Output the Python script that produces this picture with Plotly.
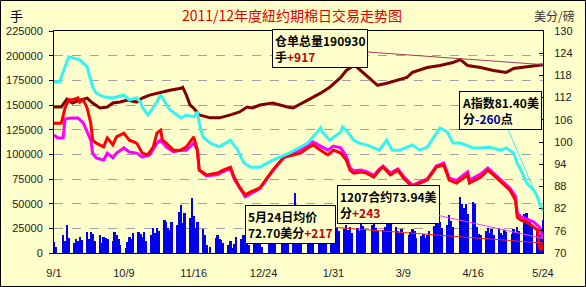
import pandas as pd
import plotly.graph_objects as go

START = pd.Timestamp("2011-09-01")
END = pd.Timestamp("2012-05-24")

# ---------------- data ----------------
tick_dates = ["2011-09-01", "2011-10-09", "2011-11-16", "2011-12-24",
              "2012-01-31", "2012-03-09", "2012-04-16", "2012-05-24"]
tick_labels = ["9/1", "10/9", "11/16", "12/24", "1/31", "3/9", "4/16", "5/24"]

holidays = ["2011-09-05", "2011-11-24", "2011-12-26", "2012-01-02",
            "2012-01-16", "2012-02-20", "2012-04-06"]

# daily volume (thousand lots), month by month
vol_sep = [11, 6, 18, 12, 28, 15, 10, 14, 12, 16, 13, 21, 14, 21, 19, 12, 18, 10, 16, 15, 14]
vol_oct = [12, 21, 18, 14, 8, 5, 11, 16, 14, 20, 21, 19, 16, 21, 12, 18, 25, 20, 25, 22, 33]
vol_nov = [31, 25, 23, 31, 28, 42, 49, 30, 41, 35, 56, 37, 25, 31, 24, 18, 8, 6, 15, 18, 14]
vol_dec = [13, 10, 8, 12, 5, 9, 16, 14, 18, 11, 13, 8, 16, 21, 14, 10, 6, 13, 20, 16, 12]
vol_jan = [22, 25, 20, 28, 33, 61, 36, 30, 24, 28, 32, 26, 22, 26, 30, 24, 28, 31, 27, 30]
vol_feb = [30, 25, 22, 24, 28, 23, 26, 20, 25, 22, 30, 27, 24, 28, 31, 25, 22, 23, 26, 35]
vol_mar = [38, 30, 26, 22, 20, 24, 21, 18, 21, 24, 22, 15, 17, 19, 15, 18, 22, 27, 33, 30, 31, 25]
vol_apr = [28, 39, 32, 26, 57, 50, 46, 50, 40, 52, 50, 26, 19, 18, 22, 25, 20, 24, 18, 25]
vol_may = [20, 18, 23, 21, 19, 24, 21, 26, 22, 40, 41, 35, 31, 28, 22, 18, 25, 33]

# warehouse stocks (thousand lots), left axis
stock_days = [0, 4, 7, 10, 14, 18, 21, 25, 29, 32, 36, 40, 45, 48, 52, 58, 63, 69, 70, 72, 74, 76,
              79, 85, 90, 96, 101, 105, 108, 112, 119, 127, 130, 138, 145, 150, 156, 159, 163, 165,
              168, 172, 176, 181, 187, 192, 195, 203, 210, 217, 221, 225, 232, 239, 246, 250, 254,
              259, 266]
stock_vals = [148, 148, 156, 152, 155, 157, 152, 147, 148, 152, 153, 155, 153, 157, 160, 163, 165,
              167, 168, 160, 150, 147, 140, 137, 137, 140, 143, 148, 147, 150, 152, 148, 147, 155,
              162, 168, 178, 185, 190, 188, 183, 177, 170, 172, 175, 178, 183, 188, 190, 193, 196,
              190, 188, 185, 183, 187, 188, 189, 190.93]

# Cotlook A index (cents/lb), right axis
a_days = [0, 3, 8, 14, 18, 21, 23, 27, 32, 38, 41, 45, 47, 48, 51, 52, 56, 58, 59, 63, 67, 69, 72,
          76, 78, 79, 81, 85, 90, 96, 100, 103, 107, 112, 119, 128, 138, 145, 146, 150, 156, 157,
          159, 163, 166, 170, 177, 181, 184, 188, 195, 199, 203, 210, 214, 217, 221, 228, 232, 237,
          243, 246, 250, 252, 254, 257, 261, 263, 264, 266]
a_vals = [116.2, 116.2, 123.0, 122.2, 120.3, 114.9, 113.2, 112.2, 111.9, 112.7, 111.4, 111.9, 110.8,
          109.5, 107.3, 107.8, 110.8, 112.7, 111.9, 108.7, 107.3, 106.5, 107.3, 106.8, 108.1, 105.1,
          101.4, 99.7, 98.7, 100.5, 97.8, 94.5, 93.2, 93.2, 95.1, 97.0, 99.7, 103.8, 102.7, 100.5,
          102.7, 104.1, 103.2, 100.5, 99.7, 99.2, 97.8, 100.5, 97.8, 97.8, 99.2, 97.8, 98.6, 103.8,
          102.7, 99.7, 99.7, 98.4, 98.4, 98.6, 97.8, 98.4, 97.0, 94.3, 92.4, 89.0, 87.0, 85.1, 83.5,
          81.4]

# spot average price (cents/lb), right axis
spot_days = [0, 4, 6, 8, 10, 13, 14, 16, 18, 20, 21, 23, 27, 29, 32, 34, 38, 41, 45, 48, 51, 54, 56,
             58, 59, 61, 65, 69, 72, 76, 78, 79, 83, 89, 92, 96, 98, 101, 104, 107, 112, 119, 125,
             130, 134, 138, 141, 145, 149, 152, 156, 159, 161, 163, 167, 170, 174, 177, 179, 183,
             187, 190, 195, 199, 203, 208, 212, 215, 219, 225, 226, 232, 236, 239, 244, 248, 251,
             252, 254, 257, 261, 263, 264, 265, 266]
spot_vals = [105.1, 105.1, 109.2, 111.4, 111.4, 111.9, 110.8, 111.4, 109.2, 105.1, 100.5, 99.7, 98.7,
             101.1, 99.2, 101.4, 102.4, 100.5, 99.7, 97.0, 96.5, 98.7, 102.4, 103.2, 100.5, 99.7,
             97.8, 97.8, 98.7, 101.4, 97.8, 92.4, 91.1, 91.6, 92.4, 93.2, 90.5, 87.8, 85.7, 86.5,
             87.6, 92.4, 95.9, 96.5, 97.0, 98.4, 99.2, 97.8, 96.5, 97.8, 97.0, 95.1, 92.4, 91.6,
             91.9, 91.6, 90.5, 92.4, 93.2, 91.1, 92.4, 90.3, 87.8, 88.9, 89.7, 93.2, 93.8, 89.7,
             88.9, 91.1, 88.9, 90.5, 92.4, 91.1, 88.9, 87.0, 84.3, 79.7, 78.9, 78.4, 77.0, 76.2,
             71.6, 70.8, 72.7]

# July 2012 contract (cents/lb), right axis
c1207_days = [0, 2, 5, 6, 9, 13, 16, 20, 21, 23, 27, 29, 32, 34, 38, 41, 45, 48, 52, 56, 58, 61, 65,
              69, 72, 76, 78, 79, 83, 89, 92, 96, 98, 101, 104, 107, 112, 119, 125, 130, 134, 138,
              141, 145, 149, 152, 156, 159, 161, 163, 167, 170, 174, 177, 179, 183, 187, 190, 195,
              199, 203, 208, 212, 215, 219, 225, 226, 232, 236, 239, 244, 248, 251, 252, 254, 257,
              261, 264, 266]
c1207_vals = [101.9, 101.1, 101.1, 106.2, 106.5, 106.5, 105.1, 100.5, 97.0, 95.7, 95.1, 97.0, 95.7,
              97.0, 98.4, 97.3, 97.0, 95.9, 96.5, 99.7, 100.5, 98.7, 97.3, 97.8, 97.8, 99.7, 97.8,
              92.4, 90.8, 91.2, 92.0, 92.8, 90.0, 87.4, 85.2, 86.0, 87.4, 92.2, 95.8, 96.8, 97.8,
              99.2, 100.0, 98.9, 97.8, 98.9, 98.4, 96.2, 93.0, 92.2, 92.4, 92.0, 91.0, 92.7, 93.5,
              91.6, 92.7, 90.8, 88.3, 89.2, 90.0, 93.5, 94.3, 90.2, 89.6, 91.9, 89.7, 91.3, 93.0,
              91.6, 89.4, 87.6, 85.3, 80.8, 79.8, 79.2, 78.4, 77.0, 73.94]

# ---------------- build ----------------
def to_dates(days):
    return [START + pd.Timedelta(days=d) for d in days]

trade_days = [d for d in pd.bdate_range(START, END) if d.strftime("%Y-%m-%d") not in holidays]
volume = vol_sep + vol_oct + vol_nov + vol_dec + vol_jan + vol_feb + vol_mar + vol_apr + vol_may
n = min(len(trade_days), len(volume))
vol_x = trade_days[:n]
vol_y = [v * 1000 for v in volume[:n]]
stock_y = [v * 1000 for v in stock_vals]

W, H = 586, 287
L, R, T, B = 54, 543, 31, 253
PW, PH = R - L, B - T

def px(x):
    return (x - L) / PW

def py(y):
    return (B - y) / PH

BG = "#FFFFCC"
FONT = "Liberation Sans, Arial, sans-serif"
CJK = "Noto Sans CJK SC, sans-serif"

fig = go.Figure()
fig.add_trace(go.Bar(x=vol_x, y=vol_y, width=86400000 * 1.3,
                     marker=dict(color="#0000F0", line=dict(width=0)),
                     yaxis="y", showlegend=False))
fig.add_trace(go.Scatter(x=to_dates(stock_days), y=stock_y, mode="lines",
                         line=dict(color="#800000", width=3), yaxis="y", showlegend=False))
fig.add_trace(go.Scatter(x=to_dates(c1207_days), y=c1207_vals, mode="lines",
                         line=dict(color="#FF00FF", width=3), yaxis="y2", showlegend=False))
fig.add_trace(go.Scatter(x=to_dates(spot_days), y=spot_vals, mode="lines",
                         line=dict(color="#FF0000", width=3), yaxis="y2", showlegend=False))
fig.add_trace(go.Scatter(x=to_dates(a_days), y=a_vals, mode="lines",
                         line=dict(color="#33F3F3", width=3), yaxis="y2", showlegend=False))

box = dict(showarrow=True, arrowhead=0, arrowwidth=1, standoff=0, startstandoff=0,
           bordercolor="#000000", borderwidth=1, borderpad=2, bgcolor=BG, align="left",
           font=dict(family=CJK, size=12, color="#000000"), xref="x")

annotations = [
    dict(text="<b>仓单总量190930<br>手<span style='color:#C00000'>+917</span></b>",
         x=END, y=190930, yref="y", ax=-223, ay=-16, arrowcolor="#A04060", **box),
    dict(text="<b>A指数81.40美<br>分<span style='color:#000099'>-260</span>点</b>",
         x=END, y=81.40, yref="y2", ax=-43, ay=-100, arrowcolor="#33F3F3", **box),
    dict(text="<b>5月24日均价<br>72.70美分<span style='color:#C00000'>+217</span></b>",
         x=END, y=72.70, yref="y2", ax=-253, ay=-19, arrowcolor="#FF2020", **box),
    dict(text="<b>1207合约73.94美<br>分<span style='color:#C00000'>+243</span></b>",
         x=END, y=73.94, yref="y2", ax=-155, ay=-34, arrowcolor="#FF40FF", **box),
    dict(text="2011/12年度紐约期棉日交易走势图", xref="paper", yref="paper", x=px(292), y=py(15),
         xanchor="center", yanchor="middle", showarrow=False,
         font=dict(family=CJK, size=14, color="#E00000")),
    dict(text="手", xref="paper", yref="paper", x=px(16), y=py(15), xanchor="center",
         yanchor="middle", showarrow=False, font=dict(family=CJK, size=13, color="#000000")),
    dict(text="美分/磅", xref="paper", yref="paper", x=px(554), y=py(15), xanchor="center",
         yanchor="middle", showarrow=False, font=dict(family=CJK, size=12, color="#333333")),
]

fig.update_layout(
    width=W, height=H,
    margin=dict(l=L, r=W - R, t=T, b=H - B, pad=0, autoexpand=False),
    paper_bgcolor=BG, plot_bgcolor=BG,
    bargap=0, showlegend=False,
    font=dict(family=FONT, size=11, color="#222222"),
    xaxis=dict(type="date", range=[START, END], tickvals=tick_dates, ticktext=tick_labels,
               showgrid=False, showline=True, linecolor="#000000", linewidth=1, mirror=True,
               ticks="", ticklabelstandoff=10, zeroline=False, automargin=False,
               tickfont=dict(family=FONT, size=11, color="#222222")),
    yaxis=dict(range=[0, 225000], tickmode="linear", tick0=0, dtick=25000, tickformat="d",
               showgrid=True, gridcolor="#A0A0A0", griddash="dash", gridwidth=1,
               showline=True, linecolor="#000000", linewidth=1, ticks="outside", ticklen=4,
               tickcolor="#000000", ticklabelstandoff=4, zeroline=False, automargin=False,
               tickfont=dict(family=FONT, size=11, color="#222222")),
    yaxis2=dict(range=[70, 130], tickmode="linear", tick0=70, dtick=6, overlaying="y", side="right",
                showgrid=False, showline=True, linecolor="#000000", linewidth=1, ticks="inside",
                ticklen=4, tickcolor="#000000", ticklabelstandoff=8, zeroline=False,
                automargin=False, tickfont=dict(family=FONT, size=11, color="#222222")),
    annotations=annotations,
    shapes=[dict(type="rect", xref="paper", yref="paper", x0=px(0.5), x1=px(585.5),
                 y0=py(286.5), y1=py(0.5), line=dict(color="#000000", width=1))],
)

fig.write_html("out.html")
